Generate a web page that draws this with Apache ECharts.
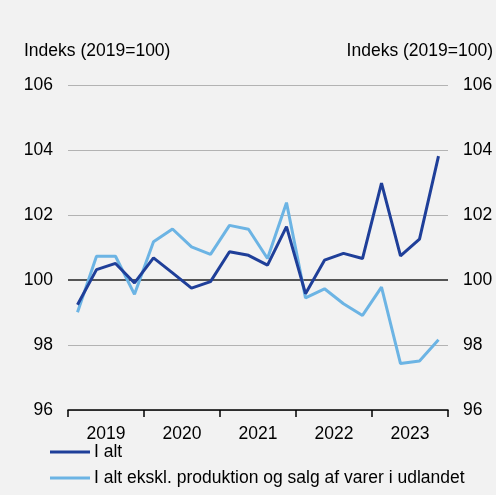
<!DOCTYPE html>
<html>
<head>
<meta charset="utf-8">
<script src="https://cdn.jsdelivr.net/npm/echarts@6/dist/echarts.min.js"></script>
<style>
  html, body { margin: 0; padding: 0; background: #f2f2f2; }
  #chart { width: 496px; height: 495px; }
</style>
</head>
<body>
<div id="chart"></div>
<script>
// quarters 2019K1 .. 2023K4
const quarters = []
const years = ['2019', '2020', '2021', '2022', '2023']
years.forEach(y => { for (let q = 1; q <= 4; q++) quarters.push(y + 'K' + q) })

const iAlt = [99.24, 100.32, 100.51, 99.91, 100.68, 100.22, 99.75, 99.95, 100.87, 100.76,
  100.46, 101.64, 99.58, 100.61, 100.82, 100.66, 102.98, 100.74, 101.26, 103.81]
const iAltEkskl = [99.01, 100.73, 100.73, 99.56, 101.18, 101.57, 101.02, 100.79, 101.68, 101.56,
  100.66, 102.38, 99.45, 99.73, 99.27, 98.91, 99.78, 97.43, 97.51, 98.16]

const seriesNames = ['I alt', 'I alt ekskl. produktion og salg af varer i udlandet']
const axisName = 'Indeks (2019=100)'

const font = 'Liberation Sans, Arial, sans-serif'
const fs = 17.5
const myChart = echarts.init(document.getElementById('chart'))

const yAxisBase = {
  type: 'value',
  min: 96,
  max: 106,
  interval: 2,
  name: axisName,
  nameGap: 25,
  nameTextStyle: { color: '#000', fontSize: fs, fontFamily: font },
  axisLine: { show: false },
  axisTick: { show: false },
  axisLabel: { color: '#000', fontSize: fs, fontFamily: font, margin: 15 }
}

myChart.setOption({
  backgroundColor: '#f2f2f2',
  textStyle: { fontFamily: font },
  grid: { left: 68, right: 48, top: 85, bottom: 85 },
  legend: {
    data: seriesNames,
    orient: 'vertical',
    left: 50,
    top: 443,
    padding: 0,
    itemWidth: 40,
    itemHeight: 3,
    itemGap: 8,
    icon: 'rect',
    textStyle: { color: '#000', fontSize: fs, fontFamily: font, lineHeight: 18, padding: [0, 0, 0, -1] }
  },
  xAxis: {
    type: 'category',
    data: quarters,
    boundaryGap: true,
    axisLine: { lineStyle: { color: '#000', width: 1.5 } },
    axisTick: {
      show: true,
      interval: 3,
      length: 7,
      lineStyle: { color: '#000', width: 1.5 }
    },
    axisLabel: {
      interval: (i) => i % 4 === 1,
      formatter: (v) => v.slice(0, 4),
      color: '#000',
      fontSize: fs,
      fontFamily: font,
      margin: 15,
      padding: [0, 0, 0, 19]
    },
    splitLine: { show: false }
  },
  yAxis: [
    Object.assign({}, yAxisBase, {
      position: 'left',
      nameTextStyle: Object.assign({}, yAxisBase.nameTextStyle, { align: 'left', padding: [0, 0, 0, -44] }),
      splitLine: { show: true, lineStyle: { color: '#b3b3b3', width: 1 } }
    }),
    Object.assign({}, yAxisBase, {
      position: 'right',
      nameTextStyle: Object.assign({}, yAxisBase.nameTextStyle, { align: 'right', padding: [0, -45, 0, 0] }),
      splitLine: { show: false }
    })
  ],
  series: [
    {
      name: seriesNames[0],
      type: 'line',
      data: iAlt,
      symbol: 'none',
      z: 3,
      lineStyle: { color: '#1f3f99', width: 3 },
      itemStyle: { color: '#1f3f99' },
      markLine: {
        silent: true,
        symbol: 'none',
        label: { show: false },
        lineStyle: { color: '#555', width: 2, type: 'solid' },
        data: [{ yAxis: 100 }],
        z: 1
      }
    },
    {
      name: seriesNames[1],
      type: 'line',
      data: iAltEkskl,
      symbol: 'none',
      z: 2,
      lineStyle: { color: '#6cb4e4', width: 3 },
      itemStyle: { color: '#6cb4e4' }
    }
  ]
})
</script>
</body>
</html>
